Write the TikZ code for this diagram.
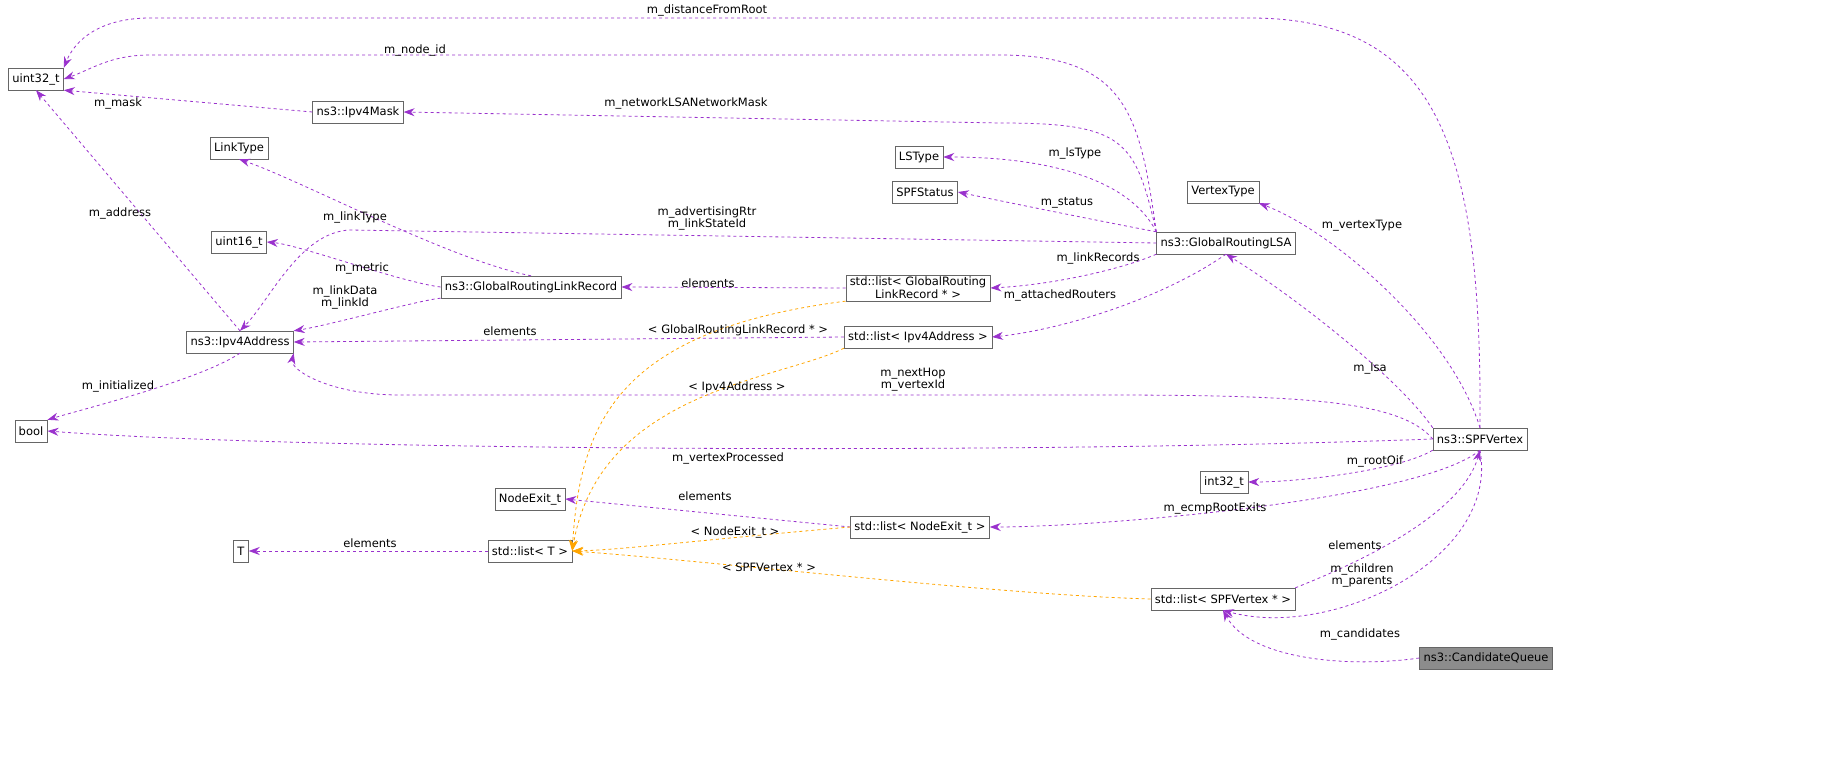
\documentclass[tikz,border=0pt]{standalone}
\usepackage{fontspec}
\setmainfont{DejaVu Sans}
\usetikzlibrary{arrows.meta,positioning}
\definecolor{edgepurple}{HTML}{9A32CD}
\definecolor{edgeorange}{HTML}{FFA500}
\tikzset{
    cls/.style={rectangle, draw=black!60, fill=white, font=\fontsize{11.5}{13}\selectfont, inner xsep=4pt, inner ysep=2pt, minimum height=22pt, align=center},
    clsgray/.style={cls, fill=black!45},
    member/.style={draw=edgepurple, dashed, -{Stealth[length=11pt,width=8pt]}, line width=0.8pt},
    inst/.style={draw=edgeorange, dashed, -{Stealth[length=11pt,width=8pt]}, line width=0.8pt},
    lbl/.style={font=\fontsize{11.5}{12}\selectfont, align=center, inner sep=1pt}
}
\begin{document}
\begin{tikzpicture}[x=1pt, y=-1pt]
    % classes
    \node [cls] (uint32) at (36,79) {uint32\_t};
    \node [cls] (mask) at (358,112) {ns3::Ipv4Mask};
    \node [cls] (lstype) at (919,157) {LSType};
    \node [cls] (spfstatus) at (925,192) {SPFStatus};
    \node [cls] (vertextype) at (1223,192) {VertexType};
    \node [cls] (linktype) at (239,148) {LinkType};
    \node [cls] (uint16) at (239,242) {uint16\_t};
    \node [cls] (linkrec) at (531,287) {ns3::GlobalRoutingLinkRecord};
    \node [cls] (lsa) at (1226,243) {ns3::GlobalRoutingLSA};
    \node [cls] (listrec) at (918,288) {std::list\textless{} GlobalRouting\\LinkRecord * \textgreater{}};
    \node [cls] (listaddr) at (918,337) {std::list\textless{} Ipv4Address \textgreater{}};
    \node [cls] (addr) at (240,342) {ns3::Ipv4Address};
    \node [cls] (bool) at (31,431) {bool};
    \node [cls] (vertex) at (1480,439) {ns3::SPFVertex};
    \node [cls] (int32) at (1224,482) {int32\_t};
    \node [cls] (nodeexit) at (530,499) {NodeExit\_t};
    \node [cls] (listexit) at (920,527) {std::list\textless{} NodeExit\_t \textgreater{}};
    \node [cls] (tparam) at (241,551) {T};
    \node [cls] (listt) at (530,551) {std::list\textless{} T \textgreater{}};
    \node [cls] (listvertex) at (1223,599) {std::list\textless{} SPFVertex * \textgreater{}};
    \node [clsgray] (queue) at (1486,658) {ns3::CandidateQueue};

    % members
    \path [member] (vertex.north) .. controls (1482,150) and (1440,18) .. (1250,18) -- (150,18) .. controls (100,18) and (75,40) .. (uint32.north east);
    \path [member] (lsa.north west) .. controls (1140,120) and (1130,55) .. (1000,55) -- (150,55) .. controls (110,55) and (90,70) .. (uint32.east);
    \path [member] (mask.west) -- (uint32.south east);
    \path [member] (addr.north) -- (uint32.south);
    \path [member] (lsa.north west) .. controls (1135,140) and (1125,123) .. (1000,123) -- (mask.east);
    \path [member] (lsa.north west) .. controls (1130,180) and (1050,157) .. (lstype.east);
    \path [member] (lsa.north west) .. controls (1120,225) and (1020,205) .. (spfstatus.east);
    \path [member] (lsa.west) -- (350,230) .. controls (300,232) and (270,300) .. (addr.north);
    \path [member] (lsa.south west) .. controls (1120,270) and (1050,285) .. (listrec.east);
    \path [member] (lsa.south) .. controls (1160,300) and (1060,330) .. (listaddr.east);
    \path [member] (linkrec.north) .. controls (450,260) and (300,180) .. (linktype.south);
    \path [member] (linkrec.west) .. controls (400,282) and (300,245) .. (uint16.east);
    \path [member] (linkrec.south west) .. controls (420,300) and (330,325) .. (addr.north east);
    \path [member] (listrec.west) -- (linkrec.east);
    \path [member] (listaddr.west) -- (addr.east);
    \path [member] (addr.south) .. controls (200,380) and (80,410) .. (bool.north east);
    \path [member] (vertex.west) .. controls (1400,400) and (1300,395) .. (1100,395) -- (400,395) .. controls (330,395) and (290,370) .. (addr.south east);
    \path [member] (vertex.west) .. controls (1000,455) and (300,450) .. (bool.east);
    \path [member] (vertex.north) .. controls (1450,330) and (1330,230) .. (vertextype.south east);
    \path [member] (vertex.north west) .. controls (1400,380) and (1300,300) .. (lsa.south);
    \path [member] (vertex.south west) .. controls (1400,470) and (1300,482) .. (int32.east);
    \path [member] (vertex.south) .. controls (1420,500) and (1100,527) .. (listexit.east);
    \path [member] (listvertex.north east) .. controls (1340,570) and (1460,520) .. (vertex.south);
    \path [member] (vertex.south) .. controls (1500,560) and (1330,640) .. (listvertex.south);
    \path [member] (queue.west) .. controls (1350,668) and (1250,660) .. (listvertex.south);
    \path [member] (listexit.west) -- (nodeexit.east);
    \path [member] (listt.west) -- (tparam.east);

    % template instances
    \path [inst] (listrec.south west) .. controls (620,330) and (580,420) .. (listt.east);
    \path [inst] (listaddr.south west) .. controls (780,380) and (600,390) .. (listt.east);
    \path [inst] (listexit.west) .. controls (700,540) and (620,550) .. (listt.east);
    \path [inst] (listvertex.west) .. controls (1000,595) and (700,560) .. (listt.east);

    % labels
    \node [lbl] at (707,10) {m\_distanceFromRoot};
    \node [lbl] at (415,50) {m\_node\_id};
    \node [lbl] at (118,103) {m\_mask};
    \node [lbl] at (120,213) {m\_address};
    \node [lbl] at (686,103) {m\_networkLSANetworkMask};
    \node [lbl] at (1075,153) {m\_lsType};
    \node [lbl] at (1067,203) {m\_status};
    \node [lbl] at (707,218) {m\_advertisingRtr\\m\_linkStateId};
    \node [lbl] at (1098,258) {m\_linkRecords};
    \node [lbl] at (1060,295) {m\_attachedRouters};
    \node [lbl] at (355,217) {m\_linkType};
    \node [lbl] at (362,268) {m\_metric};
    \node [lbl] at (345,297) {m\_linkData\\m\_linkId};
    \node [lbl] at (708,283) {elements};
    \node [lbl] at (510,331) {elements};
    \node [lbl] at (118,386) {m\_initialized};
    \node [lbl] at (913,380) {m\_nextHop\\m\_vertexId};
    \node [lbl] at (728,458) {m\_vertexProcessed};
    \node [lbl] at (1362,226) {m\_vertexType};
    \node [lbl] at (1370,368) {m\_lsa};
    \node [lbl] at (1375,461) {m\_rootOif};
    \node [lbl] at (1215,508) {m\_ecmpRootExits};
    \node [lbl] at (1355,545) {elements};
    \node [lbl] at (1362,575) {m\_children\\m\_parents};
    \node [lbl] at (1360,634) {m\_candidates};
    \node [lbl] at (705,496) {elements};
    \node [lbl] at (370,543) {elements};
    \node [lbl] at (738,330) {\textless{} GlobalRoutingLinkRecord * \textgreater{}};
    \node [lbl] at (737,387) {\textless{} Ipv4Address \textgreater{}};
    \node [lbl] at (735,532) {\textless{} NodeExit\_t \textgreater{}};
    \node [lbl] at (769,567) {\textless{} SPFVertex * \textgreater{}};

    \pgfresetboundingbox
    \path [use as bounding box] (0,0) rectangle (1840,773);
\end{tikzpicture}
\end{document}
